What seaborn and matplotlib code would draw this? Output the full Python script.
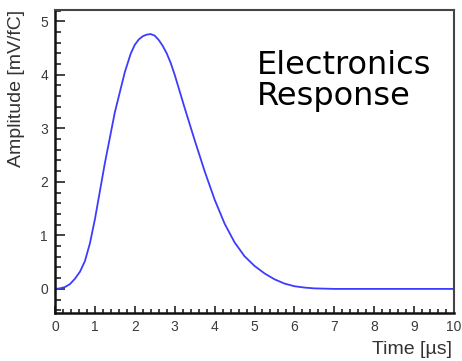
import matplotlib
matplotlib.use("Agg")
import matplotlib.pyplot as plt
from matplotlib.ticker import AutoMinorLocator
import seaborn as sns
import pandas as pd

# Values
time_us = [0.0, 0.125, 0.25, 0.375, 0.5, 0.625, 0.75, 0.875, 1.0, 1.25, 1.5, 1.75, 1.9,
           2.0, 2.1, 2.2, 2.3, 2.4, 2.5, 2.6, 2.7, 2.8, 2.9, 3.0, 3.25, 3.5, 3.75,
           4.0, 4.25, 4.5, 4.75, 5.0, 5.25, 5.5, 5.75, 6.0, 6.25, 6.5, 7.0, 8.0, 9.0, 10.0]
amplitude = [0.0, 0.01, 0.035, 0.09, 0.19, 0.32, 0.52, 0.85, 1.3, 2.35, 3.3, 4.05, 4.4,
             4.56, 4.66, 4.72, 4.75, 4.76, 4.73, 4.65, 4.54, 4.4, 4.22, 4.0, 3.38, 2.78, 2.2,
             1.67, 1.22, 0.87, 0.61, 0.43, 0.29, 0.18, 0.1, 0.05, 0.025, 0.01, 0.0, 0.0, 0.0, 0.0]
x_ticks = [0, 1, 2, 3, 4, 5, 6, 7, 8, 9, 10]
y_ticks = [0, 1, 2, 3, 4, 5]

sns.set_style("white")
plt.rcParams['font.family'] = ['Liberation Sans', 'DejaVu Sans']

df = pd.DataFrame({"t": time_us, "a": amplitude})

fig = plt.figure(figsize=(4.62, 3.61), dpi=100)
ax = fig.add_axes([55/462, 1-313/361, (454-55)/462, (313-10)/361])
sns.lineplot(data=df, x="t", y="a", ax=ax, color="#3c3cff", linewidth=1.3)

ax.set_xlim(0, 10)
ax.set_ylim(-0.45, 5.21)
ax.set_xticks(x_ticks)
ax.set_yticks(y_ticks)
ax.xaxis.set_minor_locator(AutoMinorLocator(5))
ax.yaxis.set_minor_locator(AutoMinorLocator(5))
ax.set_xlabel("")
ax.set_ylabel("")

ax.tick_params(axis='both', which='both', direction='in', left=True, bottom=True,
               top=False, right=False, colors='#222222', labelcolor='#3a3a3a',
               labelsize=10, width=1.2, pad=5)
ax.tick_params(axis='y', which='major', length=7)
ax.tick_params(axis='y', which='minor', length=4)
ax.tick_params(axis='x', which='major', length=5)
ax.tick_params(axis='x', which='minor', length=3)

for side in ['left', 'bottom']:
    ax.spines[side].set_color('#111111')
    ax.spines[side].set_linewidth(1.8)
for side in ['top', 'right']:
    ax.spines[side].set_color('#444444')
    ax.spines[side].set_linewidth(1.5)

fig.text(452/462, 1-358/361, "Time [µs]", ha='right', va='bottom',
         fontsize=14, color='#333333')
fig.text(17/462, 1-10/361, "Amplitude [mV/fC]", ha='center', va='top',
         rotation=90, fontsize=14, color='#333333')

fig.text(257/462, 1-105/361, "Electronics\nResponse", ha='left', va='baseline',
         fontsize=23, color='black', linespacing=1.02, family=['DejaVu Sans'])

fig.savefig("out.png", dpi=100)
